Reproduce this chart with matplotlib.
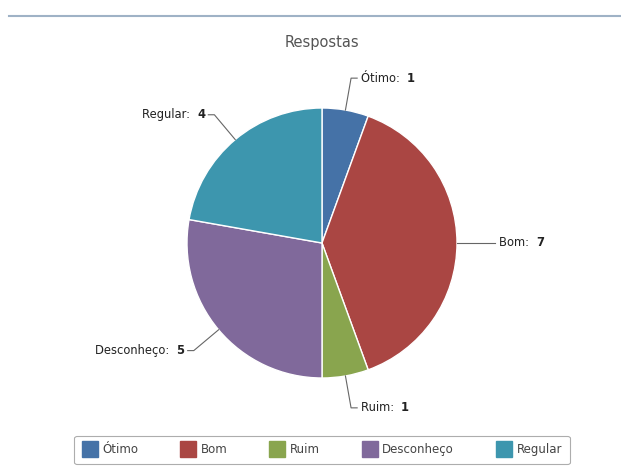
import numpy as np
import matplotlib
matplotlib.use("Agg")
import matplotlib.pyplot as plt
from matplotlib.lines import Line2D

# data
labels = ["Ótimo", "Bom", "Ruim", "Desconheço", "Regular"]
values = [1, 7, 1, 5, 4]
colors = ["#4572A7", "#AA4643", "#89A54E", "#80699B", "#3D96AE"]
title = "Respostas"

W, H = 621, 472
cx, cy, R = 322, 243, 135  # pie centre / radius in pixels

fig = plt.figure(figsize=(W / 100, H / 100), dpi=100)
ax = fig.add_axes([0, 0, 1, 1])
ax.axis("off")

wedges, _ = ax.pie(values, colors=colors, startangle=90, counterclock=False,
                   radius=1, wedgeprops=dict(edgecolor="white", linewidth=1))
ax.set_xlim(-cx / R, (W - cx) / R)
ax.set_ylim(-(H - cy) / R, cy / R)
ax.set_aspect("auto")

# top rule
fig.add_artist(Line2D([9 / W, 1], [1 - 16 / H] * 2, color="#9fb2c6", lw=1.5))

ax.text(0, (cy - 42) / R, title, ha="center", va="center", fontsize=10.5,
        color="#555555")

# labels with connectors
for w, lab, v in zip(wedges, labels, values):
    ang = np.deg2rad((w.theta1 + w.theta2) / 2)
    x0, y0 = np.cos(ang), np.sin(ang)
    x1, y1 = 1.24 * x0, 1.24 * y0
    side = 1 if x0 >= -1e-9 else -1
    x2 = x1 + side * 0.045
    ax.plot([x0, x1, x2], [y0, y1, y1], color="#666666", lw=0.8)
    tx = x2 + side * 0.025
    if side > 0:
        t = ax.text(tx, y1, lab + ":  ", ha="left", va="center", fontsize=8.3,
                    color="#222222")
        ax.annotate(str(v), xy=(1, 0.5), xycoords=t, ha="left", va="center",
                    fontsize=8.3, fontweight="bold", color="#222222")
    else:
        t = ax.text(tx, y1, str(v), ha="right", va="center", fontsize=8.3,
                    fontweight="bold", color="#222222")
        ax.annotate(lab + ":  ", xy=(0, 0.5), xycoords=t, ha="right",
                    va="center", fontsize=8.3, color="#222222")

handles = [Line2D([], [], marker="s", linestyle="none", markersize=11,
                  markerfacecolor=c, markeredgecolor=c) for c in colors]
leg = fig.legend(handles, labels, loc="lower center", ncol=5,
                 bbox_to_anchor=(cx / W, 8 / H), fontsize=8.5, frameon=True,
                 fancybox=True, edgecolor="#999999", handletextpad=0.4,
                 columnspacing=3.6, borderpad=0.65, handlelength=1.3,
                 borderaxespad=0, labelcolor="#444444")
leg.get_frame().set_linewidth(0.8)

fig.savefig("out.png", dpi=100)
